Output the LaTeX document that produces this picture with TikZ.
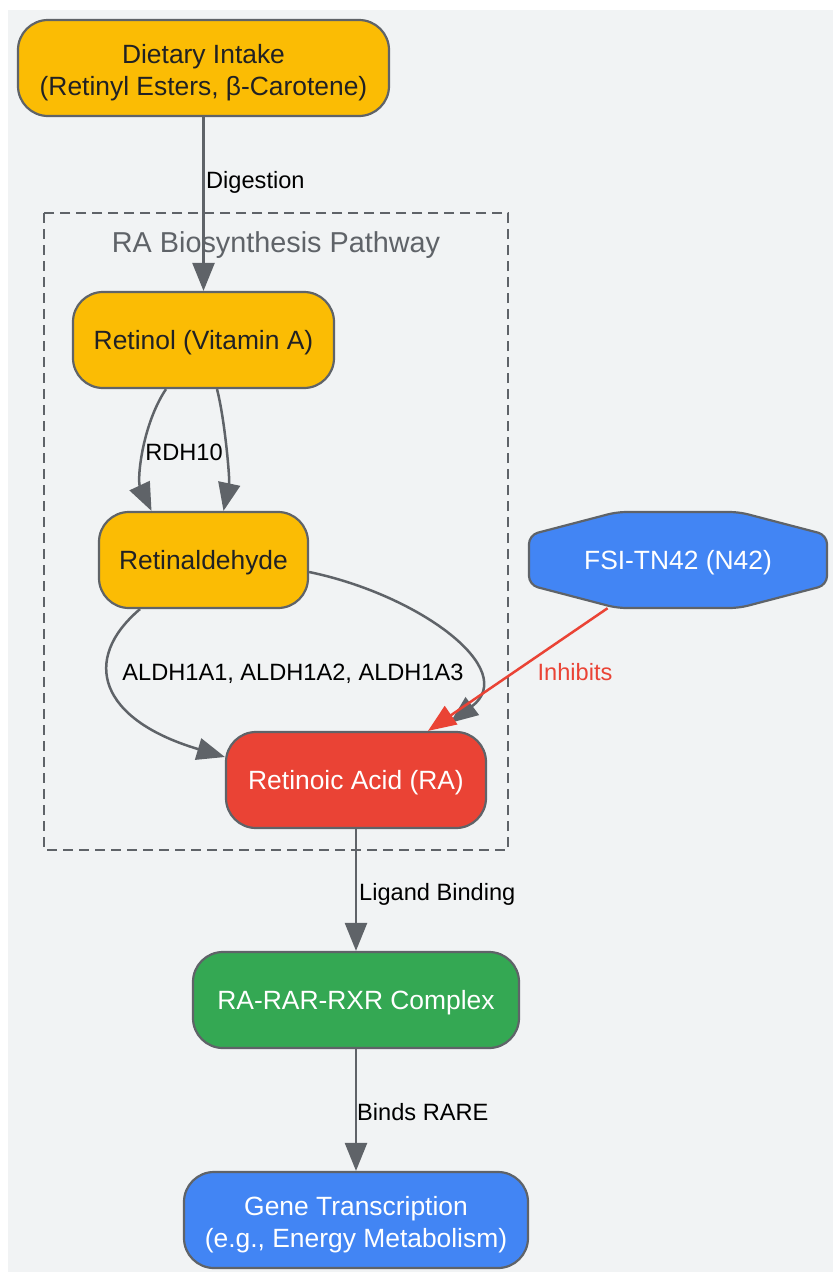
\documentclass[tikz,border=0pt]{standalone}
\usepackage{fontspec}
\setmainfont{Liberation Sans}
\usetikzlibrary{arrows.meta,calc}
\definecolor{bgc}{HTML}{F1F3F4}
\definecolor{edgec}{HTML}{5F6368}
\definecolor{yel}{HTML}{FBBC04}
\definecolor{redc}{HTML}{EA4335}
\definecolor{bluec}{HTML}{4285F4}
\definecolor{greenc}{HTML}{34A853}
\definecolor{darkt}{HTML}{202124}
\newcommand{\topstrut}{\rule{0pt}{0.905em}}
\newcommand{\botstrut}{\rule[-0.212em]{0pt}{0.212em}}
\begin{document}
\begin{tikzpicture}[x=1pt,y=-1pt,
  struts/.style={execute at begin node=\topstrut,execute at end node=\botstrut},
  box/.style={draw=edgec,line width=2.2pt,rounded corners=30pt,minimum height=96pt,align=center,font=\fontsize{26.4}{32}\selectfont,inner sep=0pt,struts},
  boxtext/.style={align=center,font=\fontsize{26.4}{32}\selectfont,inner sep=0pt},
  yelbox/.style={box,fill=yel,text=darkt},
  redbox/.style={box,fill=redc,text=white},
  bluebox/.style={box,fill=bluec,text=white},
  greenbox/.style={box,fill=greenc,text=white},
  conn/.style={draw=edgec,line width=2.5pt,-{Triangle[length=28pt,width=22pt]}},
  inhib/.style={draw=redc,line width=2.5pt,-{Triangle[length=28pt,width=22pt]}},
  elabel/.style={font=\fontsize{23.6}{28}\selectfont,text=black,inner sep=0pt,struts},
  clusterbox/.style={draw=edgec,line width=2.2pt,dash pattern=on 10pt off 6pt},
  octo/.style={draw=edgec,line width=2.2pt,fill=bluec,rounded corners=9pt}
]
\useasboundingbox (0,0) rectangle (833,1272);
\fill[bgc] (8,10) rectangle (833,1272);

% cluster
\draw[clusterbox] (44,213) rectangle (508,850);
\node[font=\fontsize{28.8}{34}\selectfont,text=edgec,inner sep=0pt,struts] (clabel) at (276,243) {RA Biosynthesis Pathway};

% nodes
\node[yelbox,minimum width=371pt] (diet) at (203.5,68) {};
\node[boxtext,text=darkt] (diettext) at ($(diet.center)+(0,5)$) {Dietary Intake\\(Retinyl Esters, β-Carotene)};
\node[yelbox,minimum width=261pt] (retinol) at (203.5,340) {Retinol (Vitamin A)};
\node[yelbox,minimum width=209pt] (rald) at (203.5,560) {Retinaldehyde};
\node[redbox,minimum width=260pt] (ra) at (356,780) {Retinoic Acid (RA)};
\node[greenbox,minimum width=326pt] (cplx) at (356,1000) {RA-RAR-RXR Complex};
\node[bluebox,minimum width=344pt] (gene) at (356,1220) {};
\node[boxtext,text=white] (genetext) at ($(gene.center)+(0,5)$) {Gene Transcription\\(e.g., Energy Metabolism)};

% octagon node
\coordinate (fsic) at (678,560);
\draw[octo] (529,535) -- (617,512) -- (739,512) -- (827,535) -- (827,585) -- (739,608) -- (617,608) -- (529,585) -- cycle;
\node[font=\fontsize{26.4}{32}\selectfont,text=white,inner sep=0pt,minimum width=298pt,minimum height=96pt,struts] (fsi) at (fsic) {FSI-TN42 (N42)};

% connectors
\draw[conn] (diet.south) -- (retinol.north);
\node[elabel,anchor=west] (l1) at (206,180) {Digestion};

\draw[conn] ($(retinol.south)+(-37.5,0)$) .. controls (142,425) and (137,480) .. ($(rald.north)+(-52,0)$);
\draw[conn] ($(retinol.south)+(13.5,0)$) .. controls (225,420) and (230,480) .. ($(rald.north)+(20,0)$);
\node[elabel] (l2) at (184,452) {RDH10};

\draw[conn] ($(rald.south)+(-63.5,0)$) .. controls (80,660) and (100,720) .. ($(ra.west)+(0,-23)$);
\draw[conn] ($(rald.east)+(0,12)$) .. controls (420,595) and (520,670) .. ($(ra.north)+(94,-8)$);
\node[elabel] (l3) at (293,672) {ALDH1A1, ALDH1A2, ALDH1A3};

\draw[inhib] (fsi) -- ($(ra.north)+(72,0)$);
\node[elabel,text=redc] (l4) at (575,672) {Inhibits};

\draw[conn] (ra.south) -- (cplx.north);
\node[elabel,anchor=west] (l5) at (359,892) {Ligand Binding};

\draw[conn] (cplx.south) -- (gene.north);
\node[elabel,anchor=west] (l6) at (357,1112) {Binds RARE};
\end{tikzpicture}
\end{document}
